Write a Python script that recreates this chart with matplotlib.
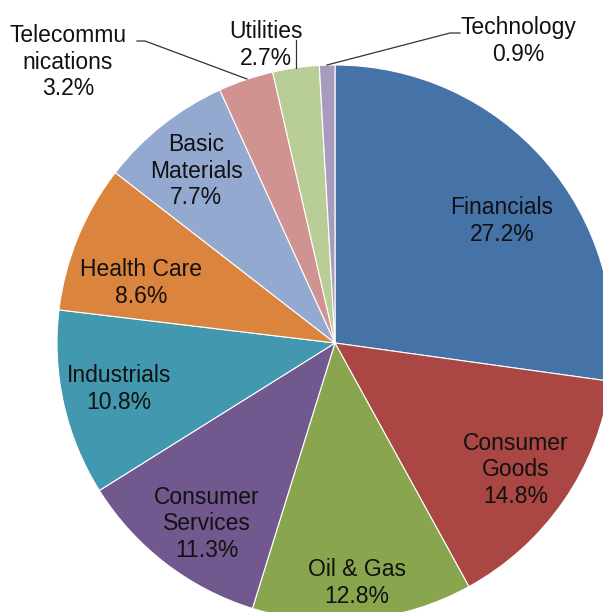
import matplotlib
matplotlib.use("Agg")
import matplotlib.pyplot as plt

sectors = ["Financials", "Consumer Goods", "Oil & Gas", "Consumer Services",
           "Industrials", "Health Care", "Basic Materials",
           "Telecommunications", "Utilities", "Technology"]
shares = [27.2, 14.8, 12.8, 11.3, 10.8, 8.6, 7.7, 3.2, 2.7, 0.9]
label_text = ["Financials", "Consumer\nGoods", "Oil & Gas", "Consumer\nServices",
              "Industrials", "Health Care", "Basic\nMaterials",
              "Telecommu\nnications", "Utilities", "Technology"]
colors = ["#4572A7", "#AA4643", "#89A54E", "#71588F", "#4198AF",
          "#DB843D", "#93A9CF", "#D19392", "#B9CD96", "#A99BBD"]

W, H = 603, 612
R = 278.0
cx, cy = 335.0, 343.0

def to_data(px, py):
    return (px - cx) / R, (cy - py) / R

fig = plt.figure(figsize=(W / 100, H / 100), dpi=100)
ax = fig.add_axes([0, 0, 1, 1])
ax.pie(shares, colors=colors, startangle=90, counterclock=False, radius=1.0,
       wedgeprops=dict(edgecolor="white", linewidth=0.8))
ax.set_xlim(-cx / R, (W - cx) / R)
ax.set_ylim(-(H - cy) / R, cy / R)
ax.set_aspect("equal")
ax.axis("off")

# label centres in pixel coordinates
label_pos = [(502, 221), (516, 470), (357, 583), (207, 524), (119, 389),
             (141, 283), (196, 171), (68, 62), (266, 45), (518, 41)]

for txt, val, (px, py) in zip(label_text, shares, label_pos):
    x, y = to_data(px, py)
    ax.text(x, y, f"{txt}\n{val:.1f}%", ha="center", va="center",
            fontsize=16.5, family="Liberation Sans", color="#111111",
            linespacing=1.22)

# leader lines for the small outer slices
leaders = [
    [(137, 41), (145, 41), (247, 79)],
    [(296, 40), (296, 68)],
    [(327, 65), (450, 33), (460, 33)],
]
for pts in leaders:
    xs, ys = zip(*[to_data(px, py) for px, py in pts])
    ax.plot(xs, ys, color="#333333", linewidth=0.9)

fig.savefig("out.png", dpi=100)
